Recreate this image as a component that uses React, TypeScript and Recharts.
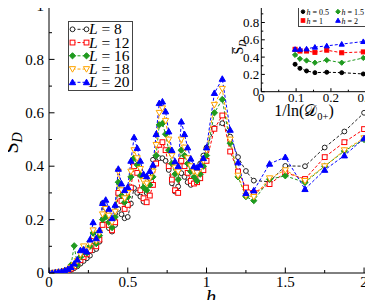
import React from "react";
import { CartesianGrid, Line, LineChart, XAxis, YAxis } from "recharts";

const SERIF = '"Liberation Serif", "DejaVu Serif", serif';

// ---- main panel: S_D vs h ----
const hVals = [
  0, 0.02, 0.04, 0.06, 0.08, 0.1, 0.12, 0.14, 0.16, 0.18,
  0.2, 0.22, 0.24, 0.26, 0.28, 0.3, 0.32, 0.34, 0.36, 0.38,
  0.4, 0.42, 0.44, 0.46, 0.48, 0.5, 0.52, 0.54, 0.56, 0.58,
  0.6, 0.62, 0.64, 0.66, 0.68, 0.7, 0.72, 0.74, 0.76, 0.78,
  0.8, 0.82, 0.84, 0.86, 0.88, 0.9, 0.92, 0.94, 0.96, 0.98,
  1.0, 1.05, 1.1, 1.15, 1.2, 1.25, 1.3, 1.4, 1.5, 1.625,
  1.75, 1.875, 2.0, 2.125,
];

const sL8 = [
  0, 0, 0.001, 0.002, 0.003, 0.005, 0.008, 0.012, 0.018, 0.025,
  0.035, 0.045, 0.055, 0.065, 0.085, 0.09, 0.117, 0.261, 0.243, 0.168,
  0.155, 0.18, 0.24, 0.22, 0.205, 0.21, 0.26, 0.318, 0.3, 0.286,
  0.267, 0.3, 0.355, 0.424, 0.436, 0.43, 0.43, 0.42, 0.386, 0.336,
  0.305, 0.324, 0.374, 0.36, 0.34, 0.33, 0.35, 0.38, 0.41, 0.44,
  0.47, 0.543, 0.561, 0.511, 0.434, 0.382, 0.346, 0.342, 0.401, 0.4,
  0.47, 0.53, 0.6, 0.67,
];
const sL12 = [
  0, 0, 0.001, 0.002, 0.004, 0.006, 0.01, 0.016, 0.025, 0.035,
  0.048, 0.06, 0.07, 0.085, 0.12, 0.1, 0.125, 0.18, 0.2, 0.18,
  0.16, 0.19, 0.3, 0.27, 0.24, 0.255, 0.32, 0.4, 0.375, 0.31,
  0.28, 0.265, 0.29, 0.33, 0.41, 0.48, 0.49, 0.46, 0.4, 0.35,
  0.31, 0.3, 0.42, 0.4, 0.375, 0.345, 0.335, 0.34, 0.355, 0.385,
  0.42, 0.54, 0.59, 0.455, 0.38, 0.32, 0.3, 0.333, 0.376, 0.352,
  0.434, 0.49, 0.539, 0.595,
];
const sL16 = [
  0, 0, 0.001, 0.003, 0.005, 0.008, 0.012, 0.03, 0.102, 0.03,
  0.06, 0.08, 0.075, 0.1, 0.15, 0.11, 0.14, 0.2, 0.21, 0.19,
  0.17, 0.21, 0.34, 0.29, 0.265, 0.285, 0.36, 0.43, 0.405, 0.365,
  0.32, 0.31, 0.33, 0.36, 0.44, 0.555, 0.56, 0.52, 0.46, 0.41,
  0.37, 0.35, 0.46, 0.44, 0.41, 0.38, 0.36, 0.345, 0.37, 0.4,
  0.44, 0.6, 0.65, 0.486, 0.36, 0.286, 0.271, 0.351, 0.364, 0.339,
  0.4, 0.457, 0.5, 0.555,
];
const sL18 = [
  0, 0, 0.001, 0.003, 0.005, 0.008, 0.012, 0.02, 0.03, 0.045,
  0.07, 0.1, 0.085, 0.11, 0.16, 0.12, 0.15, 0.22, 0.24, 0.215,
  0.19, 0.23, 0.38, 0.31, 0.28, 0.3, 0.38, 0.46, 0.43, 0.39,
  0.345, 0.335, 0.355, 0.38, 0.48, 0.6, 0.617, 0.57, 0.5, 0.44,
  0.395, 0.38, 0.5, 0.47, 0.43, 0.4, 0.38, 0.375, 0.39, 0.42,
  0.46, 0.63, 0.69, 0.5, 0.365, 0.29, 0.285, 0.355, 0.385, 0.345,
  0.4, 0.46, 0.505, 0.56,
];
const sL20 = [
  0, 0, 0.002, 0.004, 0.006, 0.01, 0.015, 0.022, 0.035, 0.05,
  0.085, 0.088, 0.08, 0.125, 0.19, 0.13, 0.16, 0.262, 0.274, 0.24,
  0.205, 0.255, 0.39, 0.335, 0.31, 0.322, 0.42, 0.508, 0.468, 0.42,
  0.37, 0.362, 0.382, 0.405, 0.52, 0.636, 0.642, 0.605, 0.53, 0.46,
  0.418, 0.4, 0.567, 0.52, 0.47, 0.428, 0.4, 0.395, 0.405, 0.43,
  0.47, 0.674, 0.727, 0.536, 0.414, 0.299, 0.309, 0.409, 0.434, 0.314,
  0.386, 0.44, 0.504, 0.565,
];

// ---- inset: S_D vs 1/ln(D0+) ----
const invLnD = [0.097, 0.111, 0.13, 0.154, 0.188, 0.231, 0.293];
const sH05 = [0.317, 0.27, 0.24, 0.22, 0.225, 0.22, 0.205];
const sH1 = [0.49, 0.47, 0.47, 0.455, 0.48, 0.45, 0.46];
const sH15 = [0.425, 0.38, 0.36, 0.335, 0.365, 0.335, 0.39];
const sH2 = [0.49, 0.49, 0.495, 0.515, 0.53, 0.55, 0.58];

const mainXTicks = [0, 0.25, 0.5, 0.75, 1, 1.25, 1.5, 1.75, 2];
const mainXMajor = [0, 0.5, 1, 1.5, 2];
const mainYTicks = [0, 0.1, 0.2, 0.3, 0.4, 0.5, 0.6, 0.7, 0.8, 0.9, 1];
const mainYMajor = [0, 0.2, 0.4, 0.6, 0.8, 1];
const insetXTicks = [0, 0.05, 0.1, 0.15, 0.2, 0.25, 0.3];
const insetXMajor = [0, 0.1, 0.2, 0.3];
const insetYTicks = [0, 0.1, 0.2, 0.3, 0.4, 0.5, 0.6, 0.7, 0.8, 0.9, 1];
const insetYMajor = [0, 0.2, 0.4, 0.6, 0.8];

type Shape = "circle" | "square" | "diamond" | "down" | "up";

const mainSeries = [
  { key: "L8", label: "8", color: "#222222", shape: "circle" as Shape, filled: false, vals: sL8 },
  { key: "L12", label: "12", color: "#ff0000", shape: "square" as Shape, filled: false, vals: sL12 },
  { key: "L16", label: "16", color: "#1f9a1f", shape: "diamond" as Shape, filled: true, vals: sL16 },
  { key: "L18", label: "18", color: "#ffa500", shape: "down" as Shape, filled: false, vals: sL18 },
  { key: "L20", label: "20", color: "#0000ff", shape: "up" as Shape, filled: true, vals: sL20 },
];

const insetSeries = [
  { key: "h05", label: "0.5", color: "#000000", shape: "circle" as Shape, vals: sH05 },
  { key: "h15", label: "1.5", color: "#1f9a1f", shape: "diamond" as Shape, vals: sH15 },
  { key: "h1", label: "1", color: "#ff0000", shape: "square" as Shape, vals: sH1 },
  { key: "h2", label: "2", color: "#0000ff", shape: "up" as Shape, vals: sH2 },
];

const mainData = hVals.map((h, i) => {
  const row: Record<string, number> = { h };
  mainSeries.forEach((s) => (row[s.key] = s.vals[i]));
  return row;
});
const insetData = invLnD.map((x, i) => {
  const row: Record<string, number> = { x };
  insetSeries.forEach((s) => (row[s.key] = s.vals[i]));
  return row;
});

function Marker({ shape, x, y, color, filled, s = 2.6 }: { shape: Shape; x: number; y: number; color: string; filled: boolean; s?: number }) {
  const fill = filled ? color : "#fff";
  const p = { fill, stroke: color, strokeWidth: 1 };
  if (shape === "circle") return <circle cx={x} cy={y} r={s} {...p} />;
  if (shape === "square") return <rect x={x - s} y={y - s} width={2 * s} height={2 * s} {...p} />;
  const d = s * 1.3;
  if (shape === "diamond")
    return <polygon points={`${x},${y - d} ${x + d},${y} ${x},${y + d} ${x - d},${y}`} {...p} />;
  if (shape === "down")
    return <polygon points={`${x - d},${y - s} ${x + d},${y - s} ${x},${y + d}`} {...p} />;
  return <polygon points={`${x},${y - d} ${x + d},${y + s} ${x - d},${y + s}`} {...p} />;
}

// S with an overbar and italic subscript D, rotated to read upwards
function SBarLabel({ bx, cy, size, sub }: { bx: number; cy: number; size: number; sub: number }) {
  const sW = size * 0.556;
  const total = sW + sub * 0.72;
  const start = -total / 2;
  return (
    <g transform={`translate(${bx},${cy}) rotate(-90)`}>
      <text x={start} y={0} fontSize={size} fontFamily={SERIF} fill="#000">
        S
        <tspan dy={size * 0.2} fontSize={sub} fontStyle="italic">
          D
        </tspan>
      </text>
      <line x1={start + size * 0.05} x2={start + sW - size * 0.03} y1={-size * 0.76} y2={-size * 0.76} stroke="#000" strokeWidth={Math.max(0.8, size * 0.05)} />
    </g>
  );
}

type Side = "bottom" | "top" | "left" | "right";
const makeTick =
  (side: Side, majors: number[], big: number, small: number, fontSize = 0, gap = 0) =>
  (props: any) => {
    const { x, y, payload } = props;
    const v = payload.value as number;
    const major = majors.some((m) => Math.abs(m - v) < 1e-6);
    const len = major ? big : small;
    let x2 = x;
    let y2 = y;
    if (side === "bottom") y2 = y - len;
    if (side === "top") y2 = y + len;
    if (side === "left") x2 = x + len;
    if (side === "right") x2 = x - len;
    return (
      <g>
        <line x1={x} y1={y} x2={x2} y2={y2} stroke="#000" strokeWidth={1} />
        {major && fontSize > 0 && side === "bottom" && (
          <text x={x} y={y + gap} textAnchor="middle" fontSize={fontSize} fontFamily={SERIF} fill="#000">
            {String(v)}
          </text>
        )}
        {major && fontSize > 0 && side === "left" && (
          <text x={x - gap} y={y + fontSize * 0.35} textAnchor="end" fontSize={fontSize} fontFamily={SERIF} fill="#000">
            {String(v)}
          </text>
        )}
      </g>
    );
  };

const dotFor = (shape: Shape, color: string, filled: boolean, s: number) => (p: any) =>
  <Marker key={`${shape}-${p.index}`} shape={shape} x={p.cx} y={p.cy} color={color} filled={filled} s={s} />;

const axisCommon = { tickSize: 0, tickMargin: 0, interval: 0 as const, stroke: "#000", type: "number" as const, allowDataOverflow: true };

export default function App() {
  return (
    <div style={{ position: "relative", width: 373, height: 308, margin: -8, background: "#fff", fontFamily: SERIF }}>
      <div style={{ position: "absolute", left: 0, top: 0 }}>
        <LineChart width={373} height={308} data={mainData} margin={{ top: 6, right: 2, bottom: 0, left: 0 }}>
          <XAxis dataKey="h" domain={[0, 2.044]} ticks={mainXTicks} height={35} tick={makeTick("bottom", mainXMajor, 5.5, 3, 15, 13.5)} {...axisCommon} />
          <XAxis xAxisId="top" orientation="top" dataKey="h" domain={[0, 2.044]} ticks={mainXTicks} height={0} tick={makeTick("top", mainXMajor, 5.5, 3)} {...axisCommon} />
          <YAxis domain={[0, 1]} ticks={mainYTicks} width={49} tick={makeTick("left", mainYMajor, 5.5, 3, 15, 5)} {...axisCommon} />
          <YAxis yAxisId="right" orientation="right" domain={[0, 1]} ticks={mainYTicks} width={0} tick={makeTick("right", mainYMajor, 5.5, 3)} {...axisCommon} />
          {mainSeries.map((s) => (
            <Line
              key={s.key}
              dataKey={s.key}
              type="linear"
              stroke={s.color}
              strokeWidth={1}
              strokeDasharray="3 2"
              dot={dotFor(s.shape, s.color, s.filled, 2.4)}
              activeDot={false}
              isAnimationActive={false}
            />
          ))}
        </LineChart>
      </div>

      <div style={{ position: "absolute", left: 220, top: 0 }}>
        <LineChart width={153} height={120} data={insetData} margin={{ top: 5.2, right: 0.3, bottom: 8.3, left: 0.3 }}>
          <CartesianGrid fill="#fff" horizontal={false} vertical={false} />
          <XAxis dataKey="x" domain={[0, 0.32]} ticks={insetXTicks} height={20} tick={makeTick("bottom", insetXMajor, 3.5, 2, 13, 10.5)} {...axisCommon} />
          <XAxis xAxisId="top" orientation="top" dataKey="x" domain={[0, 0.32]} ticks={insetXTicks} height={0} tick={makeTick("top", insetXMajor, 3.5, 2)} {...axisCommon} />
          <YAxis domain={[0, 1]} ticks={insetYTicks} width={41} tick={makeTick("left", insetYMajor, 3.5, 2, 13, 2)} {...axisCommon} />
          <YAxis yAxisId="right" orientation="right" domain={[0, 1]} ticks={insetYTicks} width={0} tick={makeTick("right", insetYMajor, 3.5, 2)} {...axisCommon} />
          {insetSeries.map((s) => (
            <Line
              key={s.key}
              dataKey={s.key}
              type="linear"
              stroke={s.color}
              strokeWidth={1}
              strokeDasharray="3 2"
              dot={dotFor(s.shape, s.color, true, 2)}
              activeDot={false}
              isAnimationActive={false}
            />
          ))}
        </LineChart>
      </div>

      <svg width={373} height={308} style={{ position: "absolute", left: 0, top: 0, pointerEvents: "none" }} fontFamily={SERIF}>
        {/* main legend */}
        <rect x={68.5} y={21.5} width={64} height={69} fill="#fff" stroke="#444" strokeWidth={1} />
        {mainSeries.map((s, i) => {
          const y = 29.3 + i * 13.25;
          return (
            <g key={s.key}>
              <line x1={72.5} x2={86.5} y1={y} y2={y} stroke={s.color} strokeDasharray="3 2" />
              <Marker shape={s.shape} x={72.5} y={y} color={s.color} filled={s.filled} s={2.4} />
              <Marker shape={s.shape} x={86.5} y={y} color={s.color} filled={s.filled} s={2.4} />
              <text x={89} y={y + 5} fontSize={15.5} fill="#000">
                <tspan fontStyle="italic">L</tspan>
                {" = " + s.label}
              </text>
            </g>
          );
        })}

        {/* inset legend */}
        <rect x={298.5} y={5.5} width={74} height={21} fill="#fff" stroke="#444" strokeWidth={1} />
        {insetSeries.map((s, i) => {
          const x = i % 2 === 0 ? 303 : 338;
          const y = i < 2 ? 11.7 : 20.5;
          return (
            <g key={s.key}>
              <Marker shape={s.shape} x={x} y={y} color={s.color} filled s={1.8} />
              <text x={x + 3.5} y={y + 3} fontSize={8} fill="#000">
                <tspan fontStyle="italic">h</tspan>
                {" = " + s.label}
              </text>
            </g>
          );
        })}

        {/* axis titles */}
        <text x={211} y={304} textAnchor="middle" fontSize={21} fontStyle="italic" fill="#000">
          h
        </text>
        <SBarLabel bx={18} cy={143} size={20} sub={14} />
        <text x={304} y={116} textAnchor="middle" fontSize={16} fill="#000">
          {"1/ln("}
          <tspan>{"\u{1D49F}"}</tspan>
          <tspan dy={3.5} fontSize={10.5}>
            {"0+"}
          </tspan>
          <tspan dy={-3.5}>{")"}</tspan>
        </text>
        <SBarLabel bx={243} cy={47} size={14} sub={10} />
      </svg>
    </div>
  );
}
